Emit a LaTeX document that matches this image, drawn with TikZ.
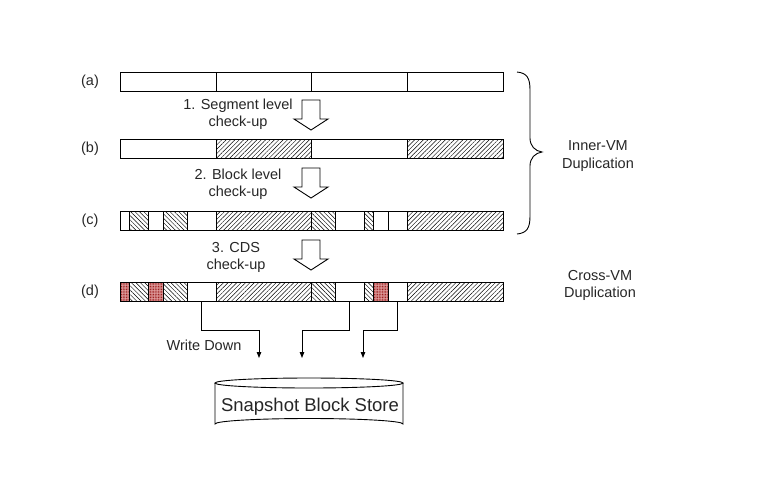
\documentclass[tikz,border=0pt]{standalone}
\usepackage{fontspec}
\setmainfont{Liberation Sans}
\usetikzlibrary{patterns,patterns.meta,arrows.meta}
\begin{document}
\begin{tikzpicture}[x=1pt,y=-1pt,
  txt/.style={text=black!85,font=\fontsize{14.5}{17.5}\selectfont,inner sep=0pt,align=center},
  cell/.style={draw=black,line width=0.9pt},
  plain/.style={fill=white},
  fwd/.style={pattern={Lines[angle=45,distance=3.1pt,line width=0.45pt]}},
  bwd/.style={pattern={Lines[angle=-45,distance=3.1pt,line width=0.45pt]}},
  redc/.style={preaction={fill={rgb,255:red,225;green,160;blue,160}},
    pattern={Dots[distance=1.6pt,radius=0.55pt]},pattern color={rgb,255:red,150;green,20;blue,20}},
  blockarrow/.style={draw=black,line width=0.9pt,fill=white,line join=miter},
  wd/.style={draw=black,line width=0.9pt,-{Triangle[width=4.5pt,length=6pt]}}
]
\useasboundingbox (0,0) rectangle (768,480);

% bar (a)
\foreach \a/\b in {120/216,216/311,311/407,407/503}
  \draw[cell,plain] (\a,72) rectangle (\b,91);
% bar (b)
\foreach \a/\b/\s in {120/216/plain,216/311/fwd,311/407/plain,407/503/fwd}
  \draw[cell,\s] (\a,139) rectangle (\b,158);
% bar (c)
\foreach \a/\b/\s in {120/129/plain,129/148/bwd,148/163/plain,163/187/bwd,187/216/plain,216/311/fwd,311/335/bwd,335/364/plain,364/373/bwd,373/388/plain,388/407/plain,407/503/fwd}
  \draw[cell,\s] (\a,211) rectangle (\b,230);
% bar (d)
\foreach \a/\b/\s in {120/129/redc,129/148/bwd,148/163/redc,163/187/bwd,187/216/plain,216/311/fwd,311/335/bwd,335/364/plain,364/373/bwd,373/388/redc,388/407/plain,407/503/fwd}
  \draw[cell,\s] (\a,282) rectangle (\b,301);

% row labels
\node[txt] (la) at (90,81.5) {(a)};
\node[txt] (lb) at (90,148.5) {(b)};
\node[txt] (lc) at (90,220.5) {(c)};
\node[txt] (ld) at (90,291.5) {(d)};

% block arrows and step texts
\foreach \t in {100,168,240}
  \draw[blockarrow] (302,\t) -- (320,\t) -- (320,\t+19) -- (328,\t+19) -- (311,\t+30)
     -- (294,\t+19) -- (302,\t+19) -- cycle;
\node[txt] (s1) at (238,114) {1. Segment level\\check-up};
\node[txt] (s2) at (238,184) {2. Block level\\check-up};
\node[txt] (s3) at (236,257.5) {3. CDS\\check-up};

% brace
\draw[line width=0.9pt] (517,72) .. controls (527,73) and (530,78) .. (530,90)
  -- (530,138) .. controls (530,146) and (535,151) .. (542,152)
  .. controls (535,153) and (530,158) .. (530,166)
  -- (530,216) .. controls (530,228) and (527,233) .. (517,234);
\node[txt] (inner) at (598,156) {Inner-VM\\Duplication};
\node[txt] (cross) at (600,285.5) {Cross-VM\\Duplication};

% write down connectors
\coordinate (mid) at (0,330);
\coordinate (o1) at (201.5,301);
\coordinate (o2) at (349.5,301);
\coordinate (o3) at (397.5,301);
\coordinate (e1) at (259,358);
\coordinate (e2) at (302,358);
\coordinate (e3) at (363,358);
\draw[wd] (o1) -- (o1 |- mid) -| (e1);
\draw[wd] (o2) -- (o2 |- mid) -| (e2);
\draw[wd] (o3) -- (o3 |- mid) -| (e3);
\node[txt] (wdl) at (204,345) {Write Down};

% cylinder store
\draw[line width=0.9pt,fill=white] (215,383) -- (215,424) arc[start angle=180,end angle=360,x radius=94,y radius=5.5]
  -- (403,383);
\draw[line width=0.9pt] (309,383) ellipse[x radius=94,y radius=5];
\node[txt,font=\fontsize{18.5}{21}\selectfont] (store) at (310,407) {Snapshot Block Store};
\end{tikzpicture}
\end{document}
